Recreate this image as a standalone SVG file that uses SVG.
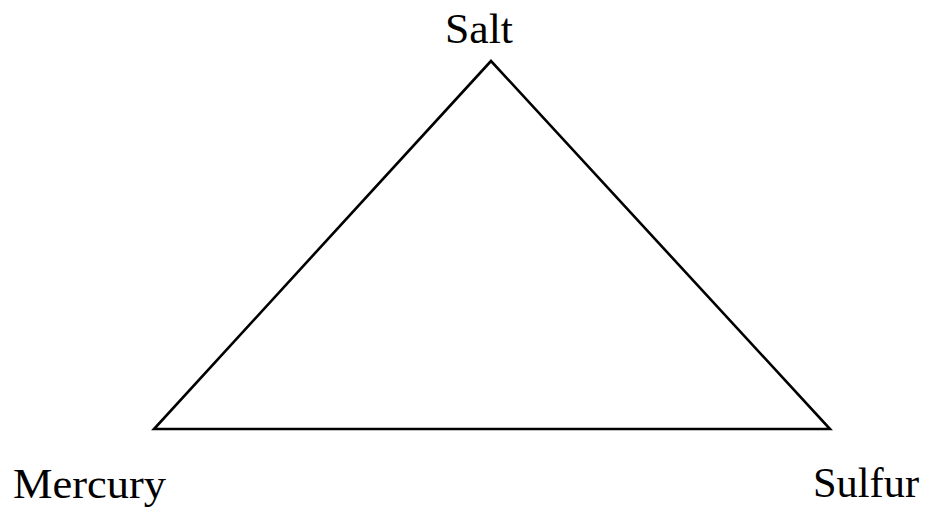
<svg xmlns="http://www.w3.org/2000/svg" width="930" height="510" viewBox="0 0 930 510">
<style>
.lbl{font-family:"Liberation Serif","Times New Roman",serif;font-size:42px;fill:#000}
.edge{stroke:#000;stroke-width:2.6;fill:none;stroke-linejoin:miter}
</style>
<rect width="930" height="510" fill="#fff"/>
<g id="connectors">
<polygon class="edge" points="491,61 154,429 830,429"/>
</g>
<g id="salt"><text class="lbl" x="445" y="43" textLength="68" lengthAdjust="spacingAndGlyphs">Salt</text></g>
<g id="mercury"><text class="lbl" x="13" y="498" textLength="153" lengthAdjust="spacingAndGlyphs">Mercury</text></g>
<g id="sulfur"><text class="lbl" x="813" y="497" textLength="106" lengthAdjust="spacingAndGlyphs">Sulfur</text></g>
</svg>
